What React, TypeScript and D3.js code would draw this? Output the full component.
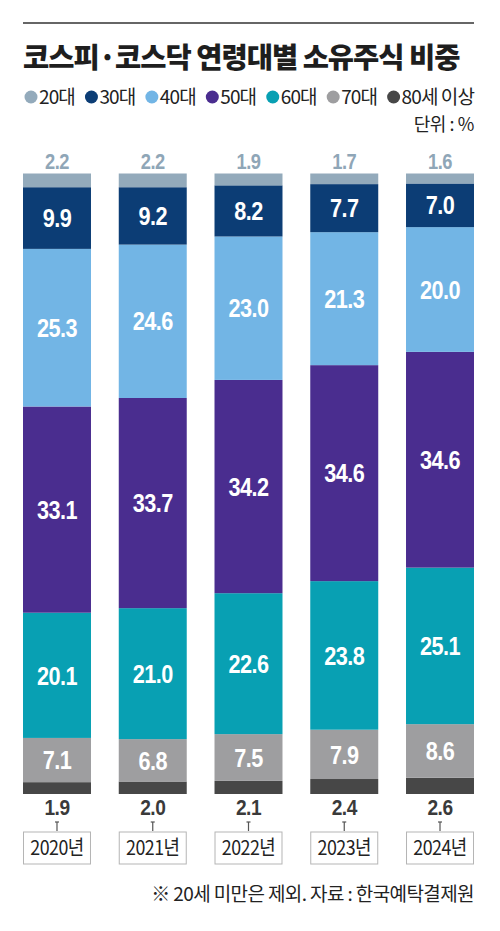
import * as d3 from "d3";
import React, { useRef, useEffect } from "react";

const years = ["2020년", "2021년", "2022년", "2023년", "2024년"];
const ageGroups = ["20대", "30대", "40대", "50대", "60대", "70대", "80세 이상"];
const age20 = [2.2, 2.2, 1.9, 1.7, 1.6];
const age30 = [9.9, 9.2, 8.2, 7.7, 7.0];
const age40 = [25.3, 24.6, 23.0, 21.3, 20.0];
const age50 = [33.1, 33.7, 34.2, 34.6, 34.6];
const age60 = [20.1, 21.0, 22.6, 23.8, 25.1];
const age70 = [7.1, 6.8, 7.5, 7.9, 8.6];
const age80 = [1.9, 2.0, 2.1, 2.4, 2.6];
const groupColors = ["#93aabb", "#0c3d75", "#72b5e5", "#4a2d8f", "#08a0b3", "#9e9ea0", "#474747"];

const W = 500;
const H = 931;

const kr = "'Noto Sans CJK KR', 'Noto Sans', sans-serif";
const num = "'Liberation Sans', Arial, sans-serif";

const App: React.FC = () => {
  const svgRef = useRef<SVGSVGElement | null>(null);

  useEffect(() => {
    const svg = d3.select(svgRef.current).attr("width", W).attr("height", H).html("");
    svg.append("rect").attr("width", W).attr("height", H).attr("fill", "#fff");

    const left = 23;
    const right = 474;

    // top rule + title
    svg.append("line")
      .attr("x1", left).attr("x2", right)
      .attr("y1", 23).attr("y2", 23)
      .attr("stroke", "#333").attr("stroke-width", 1.5);

    svg.append("text")
      .attr("x", left).attr("y", 68)
      .style("font-family", kr).style("font-weight", 900)
      .style("font-size", "28.5px").style("letter-spacing", "-1px")
      .attr("fill", "#1e1e1e")
      .text("코스피·코스닥 연령대별 소유주식 비중");

    // legend, flowed between left and right
    const legend = svg.append("g");
    const r = 6.5;
    const items = ageGroups.map((name, i) => {
      const g = legend.append("g");
      g.append("circle").attr("r", r).attr("cy", 0).attr("fill", groupColors[i]);
      const t = g.append("text")
        .attr("x", r + 1.5).attr("y", 7)
        .style("font-family", kr).style("font-size", "19px")
        .style("letter-spacing", "-0.9px")
        .attr("fill", "#222").text(name);
      const w = (t.node() as SVGTextElement).getComputedTextLength();
      return { g, w: 2 * r + 1.5 + w };
    });
    const total = d3.sum(items, d => d.w);
    const gap = (right - (left + 1.5) - total) / (items.length - 1);
    let cursor = left + 1.5;
    items.forEach(it => {
      it.g.attr("transform", `translate(${cursor + r},97)`);
      cursor += it.w + gap;
    });

    svg.append("text")
      .attr("x", right).attr("y", 131)
      .attr("text-anchor", "end")
      .style("font-family", kr).style("font-size", "18px")
      .style("letter-spacing", "-0.4px")
      .attr("fill", "#222")
      .text("단위 : %");

    // data rows
    const rows = years.map((year, i) => ({
      year,
      "20대": age20[i],
      "30대": age30[i],
      "40대": age40[i],
      "50대": age50[i],
      "60대": age60[i],
      "70대": age70[i],
      "80세 이상": age80[i],
    }));

    const keys = ageGroups.slice().reverse();
    const stacked = d3.stack<any>()
      .keys(keys)
      .offset(d3.stackOffsetExpand)(rows);

    const x = d3.scaleBand()
      .domain(years)
      .range([left, right])
      .paddingInner(0.29)
      .paddingOuter(0);

    const y = d3.scaleLinear().domain([0, 1]).range([794, 173.5]);
    const color = d3.scaleOrdinal<string>().domain(ageGroups).range(groupColors);

    const bars = svg.append("g");
    stacked.forEach(layer => {
      bars.selectAll(null)
        .data(layer)
        .enter()
        .append("rect")
        .attr("x", d => x(d.data.year)!)
        .attr("width", x.bandwidth())
        .attr("y", d => y(d[1]))
        .attr("height", d => y(d[0]) - y(d[1]))
        .attr("fill", color(layer.key));
    });

    const condensed = (sel: any, cx: number, cy: number, size: number, fill: string, label: string) => {
      sel.append("text")
        .attr("transform", `translate(${cx},${cy}) scale(0.85,1)`)
        .attr("text-anchor", "middle")
        .attr("dy", "0.36em")
        .style("font-family", num).style("font-weight", 700)
        .style("font-size", `${size}px`)
        .style("letter-spacing", "-0.6px")
        .attr("fill", fill)
        .text(label);
    };

    const labels = svg.append("g");
    stacked.forEach(layer => {
      layer.forEach(d => {
        const cx = x(d.data.year)! + x.bandwidth() / 2;
        const v = (d.data as any)[layer.key] as number;
        const txt = v.toFixed(1);
        if (layer.key === "20대") {
          condensed(labels, cx, y(d[1]) - 12.5, 21.5, "#8fa6b7", txt);
        } else if (layer.key === "80세 이상") {
          condensed(labels, cx, y(d[0]) + 12.5, 22.5, "#3a3a3a", txt);
        } else {
          condensed(labels, cx, (y(d[0]) + y(d[1])) / 2, 25.5, "#fff", txt);
        }
      });
    });

    // year boxes with ticks
    const yearG = svg.append("g").selectAll("g")
      .data(years)
      .enter()
      .append("g")
      .attr("transform", d => `translate(${x(d)},0)`);

    const mid = x.bandwidth() / 2;
    yearG.append("line")
      .attr("x1", mid).attr("x2", mid)
      .attr("y1", 822).attr("y2", 831)
      .attr("stroke", "#555").attr("stroke-width", 1.2);
    yearG.append("line")
      .attr("x1", mid - 2).attr("x2", mid + 2)
      .attr("y1", 822).attr("y2", 822)
      .attr("stroke", "#555").attr("stroke-width", 1.2);
    yearG.append("rect")
      .attr("x", 0.5).attr("y", 832)
      .attr("width", x.bandwidth() - 1).attr("height", 32)
      .attr("fill", "#fff").attr("stroke", "#b5b5b5").attr("stroke-width", 1);
    yearG.append("text")
      .attr("transform", `translate(${mid},855) scale(0.87,1)`)
      .attr("text-anchor", "middle")
      .style("font-family", kr).style("font-size", "20.5px")
      .style("letter-spacing", "-0.6px")
      .attr("fill", "#222")
      .text(d => d);

    svg.append("text")
      .attr("x", right).attr("y", 901)
      .attr("text-anchor", "end")
      .style("font-family", kr).style("font-size", "19px")
      .style("letter-spacing", "-0.6px")
      .attr("fill", "#222")
      .text("※ 20세 미만은 제외. 자료 : 한국예탁결제원");
  }, []);

  return (
    <svg
      ref={svgRef}
      style={{ position: "absolute", left: 0, top: 0, display: "block" }}
    />
  );
};

export default App;
